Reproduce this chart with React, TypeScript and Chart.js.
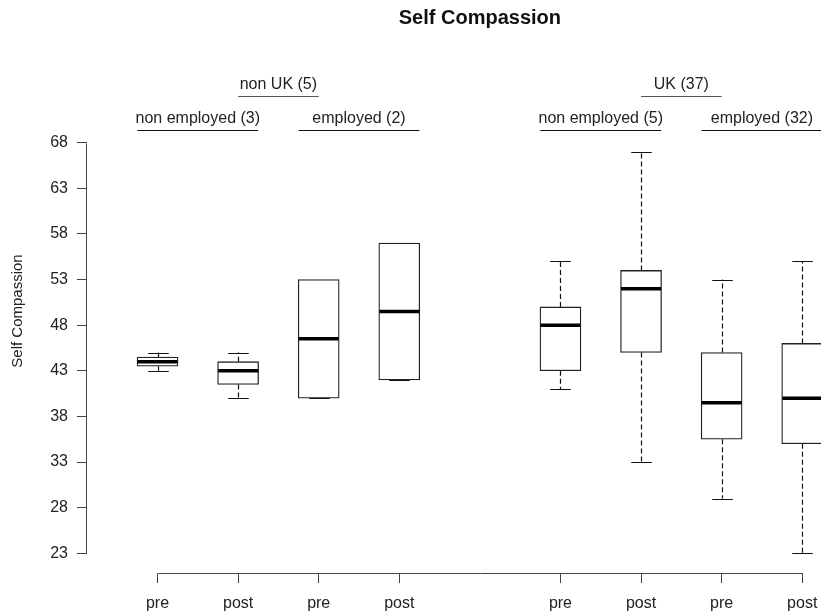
import React, { useEffect, useRef } from 'react';
import { Chart, registerables } from 'chart.js';

Chart.register(...registerables);

// ---- data ----
const chartTitle = 'Self Compassion';
const yAxisTitle = 'Self Compassion';
const positions = [1, 2, 3, 4, 6, 7, 8, 9];
const tickLabels = ['pre', 'post', 'pre', 'post', 'pre', 'post', 'pre', 'post'];
const mins = [43, 40, 40, 42, 41, 33, 29, 23];
const q1s = [43.5, 41.5, 40, 42, 43, 45, 35.5, 35];
const medians = [44, 43, 46.5, 49.5, 48, 52, 39.5, 40];
const q3s = [44.5, 44, 53, 57, 50, 54, 45, 46];
const maxs = [45, 45, 53, 57, 55, 67, 53, 55];
const yTicks = [23, 28, 33, 38, 43, 48, 53, 58, 63, 68];
const groupLabels = ['non UK (5)', 'UK (37)'];
const groupFrom = [2, 7];
const groupTo = [3, 8];
const subLabels = ['non employed (3)', 'employed (2)', 'non employed (5)', 'employed (32)'];
const subFrom = [0.75, 2.75, 5.75, 7.75];
const subTo = [2.25, 4.25, 7.25, 9.25];

const FONT = '"Liberation Sans", Arial, Helvetica, sans-serif';

const boxPlugin = {
  id: 'boxExtras',
  beforeDatasetsDraw(chart: any) {
    const { ctx, chartArea, scales } = chart;
    const xs = scales.x;
    const ys = scales.y;
    const meta = chart.getDatasetMeta(0);
    ctx.save();
    ctx.beginPath();
    ctx.rect(chartArea.left, chartArea.top, chartArea.right - chartArea.left, chartArea.bottom - chartArea.top);
    ctx.clip();
    ctx.strokeStyle = '#111';
    ctx.lineWidth = 1.2;
    positions.forEach((p, i) => {
      const x = Math.round(xs.getPixelForValue(p)) + 0.5;
      const half = meta.data[i].width / 2;
      const cap = half / 2;
      const yMin = ys.getPixelForValue(mins[i]);
      const yMax = ys.getPixelForValue(maxs[i]);
      const yQ1 = ys.getPixelForValue(q1s[i]);
      const yQ3 = ys.getPixelForValue(q3s[i]);
      ctx.setLineDash([5, 3]);
      if (maxs[i] > q3s[i]) {
        ctx.beginPath();
        ctx.moveTo(x, yQ3);
        ctx.lineTo(x, yMax);
        ctx.stroke();
      }
      if (mins[i] < q1s[i]) {
        ctx.beginPath();
        ctx.moveTo(x, yQ1);
        ctx.lineTo(x, yMin);
        ctx.stroke();
      }
      ctx.setLineDash([]);
      ctx.beginPath();
      ctx.moveTo(x - cap, Math.round(yMax) + 0.5);
      ctx.lineTo(x + cap, Math.round(yMax) + 0.5);
      ctx.moveTo(x - cap, Math.round(yMin) + 0.5);
      ctx.lineTo(x + cap, Math.round(yMin) + 0.5);
      ctx.stroke();
    });
    ctx.restore();
  },
  afterDatasetsDraw(chart: any) {
    const { ctx, chartArea, scales } = chart;
    const xs = scales.x;
    const ys = scales.y;
    const meta = chart.getDatasetMeta(0);
    ctx.save();
    ctx.beginPath();
    ctx.rect(chartArea.left, chartArea.top, chartArea.right - chartArea.left, chartArea.bottom - chartArea.top);
    ctx.clip();
    ctx.strokeStyle = '#000';
    ctx.lineWidth = 3.5;
    positions.forEach((p, i) => {
      const x = xs.getPixelForValue(p);
      const half = meta.data[i].width / 2;
      const y = ys.getPixelForValue(medians[i]);
      ctx.beginPath();
      ctx.moveTo(x - half + 0.5, y);
      ctx.lineTo(x + half - 0.5, y);
      ctx.stroke();
    });
    ctx.restore();
  },
  afterDraw(chart: any) {
    const { ctx, chartArea, scales } = chart;
    const xs = scales.x;
    const ys = scales.y;
    ctx.save();
    // axis lines (R style: only between first and last tick)
    ctx.strokeStyle = '#444';
    ctx.lineWidth = 1;
    const ax = Math.round(chartArea.left) - 0.5;
    ctx.beginPath();
    ctx.moveTo(ax, Math.round(ys.getPixelForValue(yTicks[0])) + 0.5);
    ctx.lineTo(ax, Math.round(ys.getPixelForValue(yTicks[yTicks.length - 1])) + 0.5);
    const ay = Math.round(chartArea.bottom) + 0.5;
    ctx.moveTo(Math.round(xs.getPixelForValue(positions[0])) + 0.5, ay);
    ctx.lineTo(Math.round(xs.getPixelForValue(positions[positions.length - 1])) + 0.5, ay);
    ctx.stroke();

    // main title
    ctx.fillStyle = '#111';
    ctx.font = 'bold 20px ' + FONT;
    ctx.textAlign = 'center';
    ctx.textBaseline = 'alphabetic';
    const cx = (xs.getPixelForValue(positions[0]) + xs.getPixelForValue(positions[positions.length - 1])) / 2;
    ctx.fillText(chartTitle, cx, 24);

    // y axis title
    ctx.save();
    ctx.translate(18, 311);
    ctx.rotate(-Math.PI / 2);
    ctx.font = '15px ' + FONT;
    ctx.fillStyle = '#222';
    ctx.textBaseline = 'middle';
    ctx.fillText(yAxisTitle, 0, 0);
    ctx.restore();

    // group labels
    ctx.font = '16px ' + FONT;
    ctx.fillStyle = '#222';
    ctx.textBaseline = 'middle';
    groupLabels.forEach((lab, i) => {
      const a = xs.getPixelForValue(groupFrom[i]);
      const b = xs.getPixelForValue(groupTo[i]);
      ctx.fillText(lab, (a + b) / 2, 84.5);
      ctx.strokeStyle = '#555';
      ctx.lineWidth = 1.2;
      ctx.beginPath();
      ctx.moveTo(a, 96.5);
      ctx.lineTo(b, 96.5);
      ctx.stroke();
    });
    subLabels.forEach((lab, i) => {
      const a = xs.getPixelForValue(subFrom[i]);
      const b = xs.getPixelForValue(subTo[i]);
      ctx.fillText(lab, (a + b) / 2, 119);
      ctx.strokeStyle = '#111';
      ctx.lineWidth = 1.2;
      ctx.beginPath();
      ctx.moveTo(a, 130.5);
      ctx.lineTo(b, 130.5);
      ctx.stroke();
    });
    ctx.restore();
  },
};

export default function App() {
  const canvasRef = useRef<HTMLCanvasElement | null>(null);

  useEffect(() => {
    if (!canvasRef.current) return;
    const data = positions.map((p, i) => ({ x: p, y: [q1s[i], q3s[i]] }));
    const chart = new Chart(canvasRef.current, {
      type: 'bar',
      data: {
        datasets: [
          {
            data: data as any,
            backgroundColor: '#ffffff',
            borderColor: '#222',
            borderWidth: 1.3,
            borderSkipped: false,
            barThickness: 41,
          },
        ],
      },
      plugins: [boxPlugin],
      options: {
        animation: false,
        responsive: true,
        maintainAspectRatio: false,
        layout: { padding: { top: 134, right: 0, left: 0, bottom: 0 } },
        plugins: {
          legend: { display: false },
          title: { display: false },
          tooltip: { enabled: false },
        },
        scales: {
          x: {
            type: 'linear',
            min: 0.125,
            max: 9.233,
            offset: false,
            afterBuildTicks: (s: any) => {
              s.ticks = positions.map((v) => ({ value: v }));
            },
            afterFit: (s: any) => {
              s.height = 43;
              s.paddingLeft = 0;
              s.paddingRight = 0;
            },
            grid: { display: true, drawOnChartArea: false, drawTicks: true, tickLength: 10, color: '#444', offset: false },
            border: { display: false },
            ticks: {
              autoSkip: false,
              maxRotation: 0,
              padding: 11,
              color: '#222',
              font: { size: 16, family: FONT },
              callback: (v: any) => {
                const i = positions.indexOf(Number(v));
                return i >= 0 ? tickLabels[i] : '';
              },
            },
          },
          y: {
            type: 'linear',
            min: 20.84,
            max: 68.95,
            beginAtZero: false,
            afterBuildTicks: (s: any) => {
              s.ticks = yTicks.map((v) => ({ value: v }));
            },
            afterFit: (s: any) => {
              s.width = 87;
              s.paddingTop = 0;
              s.paddingBottom = 0;
            },
            grid: { display: true, drawOnChartArea: false, drawTicks: true, tickLength: 10, color: '#444' },
            border: { display: false },
            ticks: {
              padding: 9,
              color: '#222',
              font: { size: 16, family: FONT },
            },
          },
        },
      } as any,
    });
    return () => chart.destroy();
  }, []);

  return (
    <div style={{ position: 'absolute', left: 0, top: 0, width: 821, height: 616, background: '#fff' }}>
      <canvas ref={canvasRef} />
    </div>
  );
}
